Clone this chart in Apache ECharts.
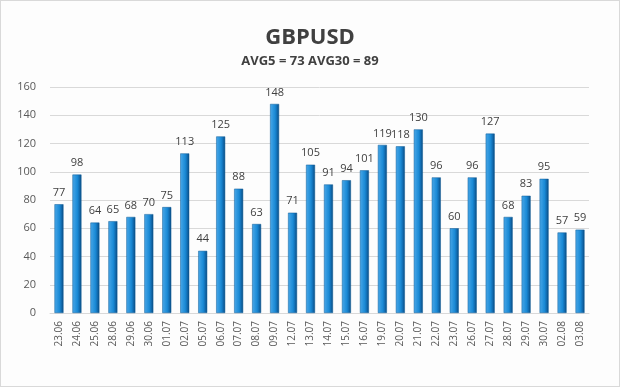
<!DOCTYPE html>
<html><head><meta charset="utf-8">
<script src="https://cdn.jsdelivr.net/npm/echarts@6/dist/echarts.min.js"></script>
<style>html,body{margin:0;padding:0;background:#fff}#c{width:618px;height:385px;border:1px solid #d9d9d9;background:#fdfdfd}</style>
</head><body><div id="c"></div>
<script>
const categories = ["23.06","24.06","25.06","28.06","29.06","30.06","01.07","02.07","05.07","06.07","07.07","08.07","09.07","12.07","13.07","14.07","15.07","16.07","19.07","20.07","21.07","22.07","23.07","26.07","27.07","28.07","29.07","30.07","02.08","03.08"];
const values = [77,98,64,65,68,70,75,113,44,125,88,63,148,71,105,91,94,101,119,118,130,96,60,96,127,68,83,95,57,59];
const titleText = "GBPUSD";
const subtitleText = "AVG5 = 73 AVG30 = 89";
const chart = echarts.init(document.getElementById('c'));
chart.setOption({
  animation:false,
  title:{text:titleText, subtext:subtitleText, left:'center', top:21, itemGap:6,
    textStyle:{fontFamily:'Open Sans',fontSize:22,fontWeight:'bold',color:'#404040'},
    subtextStyle:{fontFamily:'Open Sans',fontSize:13,fontWeight:'bold',color:'#404040'}},
  grid:{left:49,right:30,top:86,bottom:73},
  xAxis:{type:'category',data:categories,
    axisLine:{lineStyle:{color:'#d9d9d9'}},axisTick:{show:false},
    axisLabel:{rotate:90,interval:0,fontSize:10,color:'#595959',fontFamily:'Open Sans',margin:8}},
  yAxis:{type:'value',min:0,max:160,interval:20,
    axisLine:{show:false},axisTick:{show:false},
    axisLabel:{fontSize:11,color:'#595959',fontFamily:'Open Sans',margin:14},
    splitLine:{lineStyle:{color:'#d9d9d9'}}},
  series:[{type:'bar',data:values,barWidth:9,
    itemStyle:{color:new echarts.graphic.LinearGradient(0,0,1,0,[
      {offset:0,color:'#4aa8e8'},{offset:0.55,color:'#1a8ad6'},{offset:0.75,color:'#126fb5'},{offset:1,color:'#0a4a7e'}]),
      borderColor:'#0d5a96',borderWidth:0.5},
    label:{show:true,position:'top',distance:6,fontSize:11,color:'#404040',fontFamily:'Open Sans'}}]
});
</script></body></html>
